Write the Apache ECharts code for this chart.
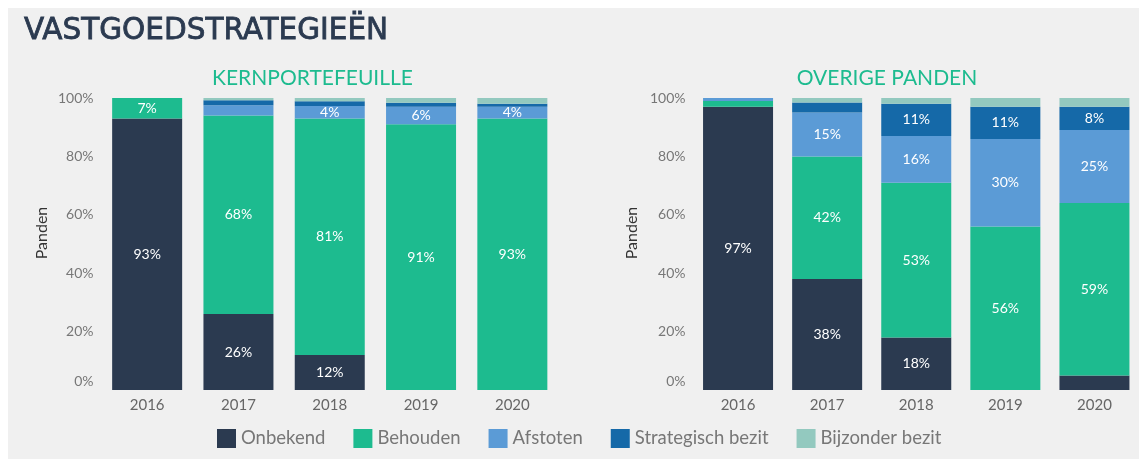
<!DOCTYPE html>
<html>
<head>
<meta charset="utf-8">
<script src="https://cdn.jsdelivr.net/npm/echarts@6/dist/echarts.min.js"></script>
<style>
html,body{margin:0;padding:0;background:#ffffff;}
#chart{width:1139px;height:459px;}
</style>
</head>
<body>
<div id="chart"></div>
<script>
// ---- data ----
const years = ['2016', '2017', '2018', '2019', '2020'];
const seriesNames = ['Onbekend', 'Behouden', 'Afstoten', 'Strategisch bezit', 'Bijzonder bezit'];
const yTicks = [0, 20, 40, 60, 80, 100];

// KERNPORTEFEUILLE (% of panden)
const kernOnbekend    = [93, 26, 12, 0, 0];
const kernBehouden    = [7, 68, 81, 91, 93];
const kernAfstoten    = [0, 3.5, 4.3, 6, 4];
const kernStrategisch = [0, 1.7, 1.6, 1.4, 1];
const kernBijzonder   = [0, 0.8, 1.1, 1.6, 2];

// OVERIGE PANDEN (% of panden)
const ovOnbekend    = [97, 38, 18, 0, 5];
const ovBehouden    = [2, 42, 53, 56, 59];
const ovAfstoten    = [1, 15, 16, 30, 25];
const ovStrategisch = [0, 3.5, 11, 11, 8];
const ovBijzonder   = [0, 1.5, 2, 3, 3];

// labels shown on segments of at least this size, except these hidden ones
const labelMin = 4;
const hiddenLabels = [['ov', 'Onbekend', '2020']];

// ---- styling ----
const colors = ['#2b3a50', '#1dbb8f', '#5b9bd6', '#1569a8', '#93c9bf'];
const FONT = 'Lato';

const kernData = [kernOnbekend, kernBehouden, kernAfstoten, kernStrategisch, kernBijzonder];
const ovData = [ovOnbekend, ovBehouden, ovAfstoten, ovStrategisch, ovBijzonder];

function makeSeries(chartKey, dataSets, gridIdx) {
  return dataSets.map((arr, i) => ({
    name: seriesNames[i],
    type: 'bar',
    stack: chartKey,
    xAxisIndex: gridIdx,
    yAxisIndex: gridIdx,
    barWidth: 70,
    itemStyle: { color: colors[i] },
    label: {
      show: true,
      position: 'inside',
      color: '#ffffff',
      fontFamily: FONT,
      fontSize: 14,
      formatter: p => {
        const hidden = hiddenLabels.some(h => h[0] === chartKey && h[1] === p.seriesName && h[2] === p.name);
        return (p.value >= labelMin && !hidden) ? Math.round(p.value) + '%' : '';
      }
    },
    data: arr
  }));
}

const gridTop = 98, gridH = 292, gridW = 456.5;
const lefts = [101.5, 693.5];

function yAx(idx) {
  return {
    type: 'value', gridIndex: idx, min: 0, max: 100, interval: 20,
    axisLine: { show: false }, axisTick: { show: false }, splitLine: { show: false },
    axisLabel: {
      color: '#777', fontFamily: FONT, fontSize: 14, margin: 8,
      formatter: v => v === 0 ? '{z|0%}' : v + '%',
      rich: { z: { color: '#777', fontFamily: FONT, fontSize: 14, padding: [0, 0, 18, 0] } }
    }
  };
}
function xAx(idx) {
  return {
    type: 'category', gridIndex: idx, data: years,
    axisLine: { show: false }, axisTick: { show: false },
    axisLabel: { color: '#666', fontFamily: FONT, fontSize: 15, margin: 8 }
  };
}

function yName(x) {
  return {
    type: 'text', x: x, y: 233, rotation: Math.PI / 2, silent: true,
    style: { text: 'Panden', fill: '#333', font: '16px Lato', align: 'center', verticalAlign: 'middle' }
  };
}

const chart = echarts.init(document.getElementById('chart'));
chart.setOption({
  backgroundColor: '#ffffff',
  animation: false,
  graphic: [{
    type: 'rect', z: -10, silent: true,
    shape: { x: 8, y: 8, width: 1131, height: 451 },
    style: { fill: '#f0f0f0' }
  }, yName(42), yName(632)],
  title: [
    { text: 'VASTGOEDSTRATEGIEËN', left: 19, top: 11,
      textStyle: { color: '#2b3a50', fontFamily: 'DejaVu Sans', fontWeight: 'normal', fontSize: 29.5,
        textBorderColor: '#2b3a50', textBorderWidth: 0.8 } },
    { text: 'KERNPORTEFEUILLE', left: 307.5, top: 63, textAlign: 'center',
      textStyle: { color: '#1dbb8f', fontFamily: FONT, fontWeight: 'normal', fontSize: 21 } },
    { text: 'OVERIGE PANDEN', left: 882, top: 63, textAlign: 'center',
      textStyle: { color: '#1dbb8f', fontFamily: FONT, fontWeight: 'normal', fontSize: 21 } }
  ],
  legend: {
    data: seriesNames, left: 212, top: 424,
    icon: 'rect', itemWidth: 19, itemHeight: 19, itemGap: 28,
    textStyle: { color: '#777', fontFamily: FONT, fontSize: 18.5 }
  },
  grid: lefts.map(l => ({ left: l, top: gridTop, width: gridW, height: gridH })),
  xAxis: [xAx(0), xAx(1)],
  yAxis: [yAx(0), yAx(1)],
  series: [...makeSeries('kern', kernData, 0), ...makeSeries('ov', ovData, 1)]
});
</script>
</body>
</html>
